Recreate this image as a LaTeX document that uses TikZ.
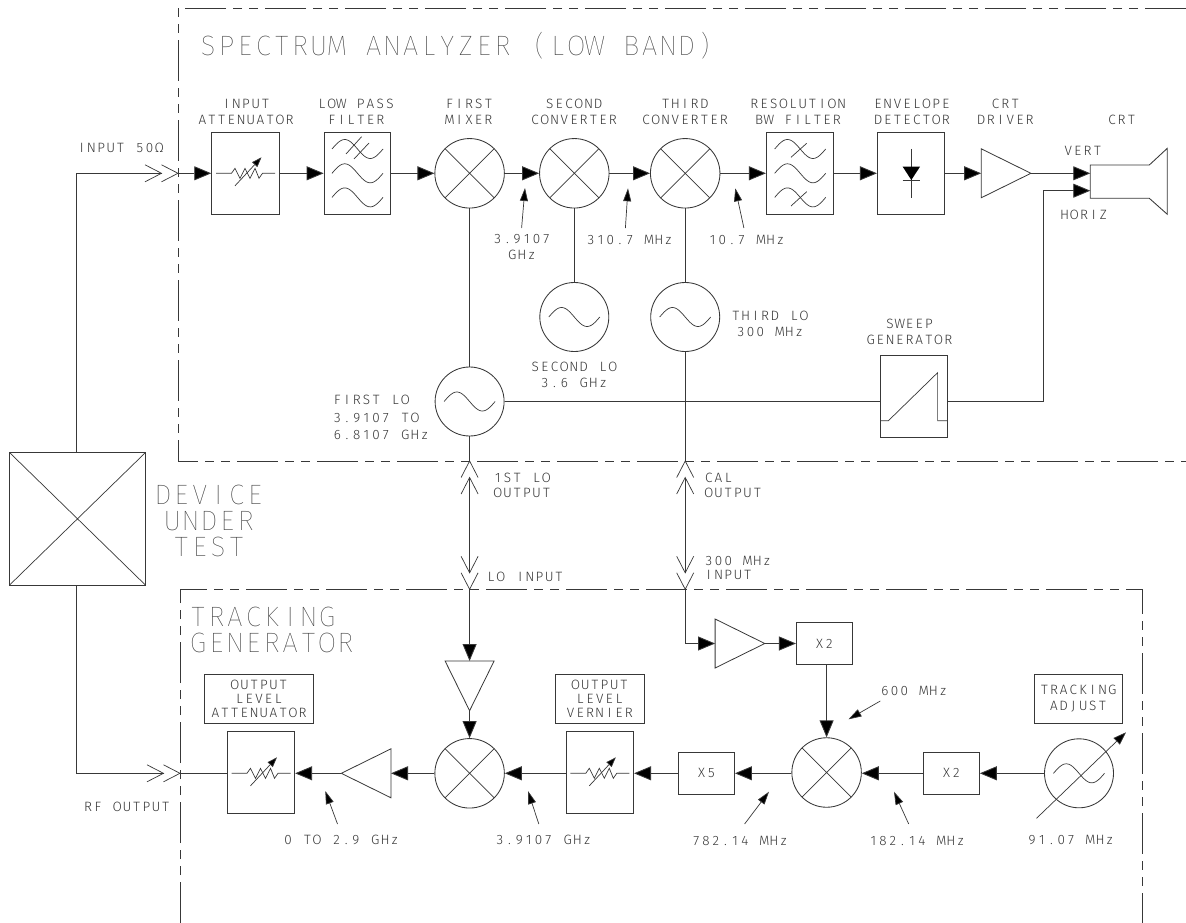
\documentclass[tikz,border=0pt]{standalone}
\usepackage{fontspec}
\usetikzlibrary{arrows.meta}
\newfontfamily\smallface[FakeStretch=1.0]{Fira Sans Light}
\newfontfamily\largeface[FakeStretch=0.97]{Fira Sans Thin}
\def\pitchw{9.7pt}
\def\pitchend{\pitchend}
\def\pitched#1{\leavevmode\pitchstep#1\pitchend}
\def\pitchstep#1{\ifx#1\pitchend\else\hbox to\pitchw{\hss#1\hss}\expandafter\pitchstep\fi}
\definecolor{ink}{gray}{0.22}
\tikzset{
  wire/.style={draw=ink,line width=0.85pt},
  flow/.style={wire,-{Triangle[length=17pt,width=14pt,fill=black]}},
  pointer/.style={draw=ink,line width=0.7pt,-{Triangle[length=13pt,width=8pt,fill=black]}},
  lbl/.style={inner sep=0pt,outer sep=0pt,text=ink,align=center,font=\smallface\fontsize{13.5}{#1}\selectfont},
  lbl/.default=16,
  biglbl/.style={inner sep=0pt,outer sep=0pt,text=ink,align=center,font=\largeface\fontsize{28}{#1}\selectfont\def\pitchw{18.4pt}},
  biglbl/.default=26,
  boxn/.style={wire,rectangle,inner sep=0pt,minimum width=#1,minimum height=82pt},
  mixer/.style={wire,circle,inner sep=0pt,minimum size=69.5pt,
    path picture={\draw[ink,line width=0.7pt]
      (path picture bounding box.north west)--(path picture bounding box.south east)
      (path picture bounding box.north east)--(path picture bounding box.south west);}},
  osc/.style={wire,circle,inner sep=0pt,minimum size=69pt},
  tag/.style={wire,rectangle,inner sep=0pt,text=ink,align=center,font=\smallface\fontsize{13.5}{#1}\selectfont},
  mult/.style={wire,rectangle,inner sep=0pt,minimum width=56pt,minimum height=42pt,text=ink,font=\smallface\fontsize{13.5}{16}\selectfont},
  fence/.style={draw=ink,line width=0.85pt,dash pattern=on 41pt off 7pt on 9pt off 7pt on 9pt off 7pt},
  pics/sinewave/.style={code={\draw[ink,line width=0.7pt,smooth,samples=37,domain=0:360]
      plot ({\x/360*51-25.5},{-9.5*sin(\x)});}},
  pics/amp/.style={code={\draw[ink,line width=0.8pt] (0,-24.5)--(0,24.5)--(49.7,0)--cycle;
      \coordinate (-in) at (0,0); \coordinate (-out) at (49.7,0);}},
  pics/chevrons/.style={code={\draw[ink,line width=0.7pt] (-16.5,-8.5)--(0,0)--(-16.5,8.5)
      (-33,-8.5)--(-16.5,0)--(-33,8.5);}},
  pics/varres/.style={code={\draw[ink,line width=0.7pt] (-29.5,0)--(-14,0)--(-10.5,-5)--(-5.5,5)--(-0.5,-5)--(4.5,5)--(9.5,-5)--(13.5,5)--(17,0)--(29.5,0);
      \draw[pointer,-{Triangle[length=10pt,width=7pt,fill=black]}] (-10.5,12.5)--(16,-16);}}
}
\begin{document}
\begin{tikzpicture}[x=1pt,y=-1pt]
\fill[white] (0,0) rectangle (1186,923);
\useasboundingbox (0,0) rectangle (1186,923);
% enclosures
\draw[fence] (1186,8.3)--(178,8.3)--(178,461)--(1186,461);
\draw[fence] (180,923)--(180,589.3)--(1142.2,589.3)--(1142.2,923);
\node[biglbl,anchor=base] (satitle) at (456.6,55.5) {\pitched{SPECTRUM~ANALYZER~(LOW~BAND)}};
\node[biglbl=26,align=left,anchor=west] (tgtitle) at (189,630) {\pitched{TRACKING}\\\pitched{GENERATOR}};
\node[biglbl=26] (duttext) at (209,520.5) {\pitched{DEVICE}\\\pitched{UNDER}\\\pitched{TEST}};
% device under test
\node[wire,rectangle,inner sep=0pt,minimum width=135.7pt,minimum height=132.3pt,
  path picture={\draw[ink,line width=0.7pt]
      (path picture bounding box.north west)--(path picture bounding box.south east)
      (path picture bounding box.north east)--(path picture bounding box.south west);}] (dut) at (77.5,518.8) {};
\coordinate (dutT) at (76.5,452.7);
\coordinate (dutB) at (76.5,585);
% spectrum analyzer chain
\node[boxn=67.6pt] (att) at (245.5,173.3) {};
\node[boxn=66.5pt] (lpf) at (357.3,173.3) {};
\node[mixer] (mix1) at (469.6,173.3) {};
\node[mixer] (mix2) at (574.3,173.3) {};
\node[mixer] (mix3) at (685.2,173.3) {};
\node[boxn=67.3pt] (res) at (800,173.3) {};
\node[boxn=66.9pt] (det) at (910.8,173.3) {};
\pic (drv) at (981.2,173.3) {amp};
\pic at (245.5,173.3) {varres};
\foreach \yy in {149,173.3,197.4} {\pic at (357.5,\yy) {sinewave}; \pic at (800.2,\yy) {sinewave};}
\draw[ink,line width=0.7pt] (346,154)--(361.6,136.7) (354,159)--(369,143)
  (791,157.3)--(806.7,143.3) (791,206)--(806.7,191.7);
\draw[ink,line width=0.7pt] (911.3,149)--(911.3,198.3) (902.7,180)--(920,180);
\fill[black] (902.7,166.7)--(920,166.7)--(911.3,180)--cycle;
\draw[ink,line width=0.85pt] (1090.3,165)--(1149.3,165)--(1167.3,148.3)--(1167.3,214.3)--(1149.3,198.3)--(1090.3,198.3)--cycle;
\coordinate (crtV) at (1090.3,173.3);
\coordinate (crtH) at (1090.3,190.7);
\coordinate (inA) at (178,173.3);
\coordinate (inB) at (162,173.3);
\pic at (178,173.3) {chevrons};
\draw[wire] (dutT) |- (inB);
\draw[flow] (inA)--(att);
\draw[flow] (att)--(lpf);
\draw[flow] (lpf)--(mix1);
\draw[flow] (mix1)--(mix2);
\draw[flow] (mix2)--(mix3);
\draw[flow] (mix3)--(res);
\draw[flow] (res)--(det);
\draw[flow] (det)--(drv-in);
\draw[flow] (drv-out)--(crtV);
% local oscillators
\node[osc] (lo2) at (574.3,317) {};
\node[osc] (lo3) at (685.2,317) {};
\node[osc] (lo1) at (469.6,401.5) {};
\pic at (574.3,317) {sinewave};
\pic at (685.2,317) {sinewave};
\pic at (469.6,401.5) {sinewave};
\draw[wire] (mix2)--(lo2);
\draw[wire] (mix3)--(lo3);
\draw[wire] (mix1)--(lo1);
\node[wire,rectangle,inner sep=0pt,minimum width=67.3pt,minimum height=81.6pt] (sweep) at (913.6,396.5) {};
\draw[ink,line width=0.7pt] (880,420.7)--(888.4,420.7)--(937.6,372.7)--(937.6,420.7)--(947.3,420.7);
\draw[wire] (lo1)--(sweep.west |- lo1);
\coordinate (hturn) at (1043.6,401.5);
\draw[wire] (sweep.east |- lo1)--(hturn);
\draw[flow] (hturn) |- (crtH);
% interconnects
\coordinate (lo1out) at (469.6,461);
\coordinate (lo1up) at (469.6,477.5);
\coordinate (lo1dn) at (469.6,573);
\coordinate (loin) at (469.6,589.3);
\coordinate (calout) at (685.2,461);
\coordinate (calup) at (685.2,477.5);
\coordinate (caldn) at (685.2,573);
\coordinate (calin) at (685.2,589.3);
\draw[wire] (lo1)--(lo1out);
\draw[wire] (lo3)--(calout);
\draw[wire] (lo1up)--(lo1dn);
\draw[wire] (calup)--(caldn);
\pic[rotate=90] at (lo1out) {chevrons};
\pic[rotate=90] at (calout) {chevrons};
\pic[rotate=-90] at (loin) {chevrons};
\pic[rotate=-90] at (calin) {chevrons};
% tracking generator
\pic[rotate=-90] (ampLo) at (469.6,661) {amp};
\node[mixer] (mix4) at (469.6,773.3) {};
\pic[rotate=180] (ampOut) at (391,773.3) {amp};
\node[boxn=67.4pt] (oatt) at (261,772.3) {};
\node[boxn=67.6pt] (vern) at (599.8,772.3) {};
\pic at (261,773.3) {varres};
\pic at (599.8,773.3) {varres};
\node[mult] (x5) at (706.5,773.3) {\pitched{X5}};
\node[mixer] (mix5) at (826.6,772.5) {};
\node[mult] (x2r) at (951.4,773.3) {\pitched{X2}};
\node[osc] (trk) at (1079,773.3) {};
\pic at (1079,773.3) {sinewave};
\pic (amp3) at (715.1,643.5) {amp};
\node[mult] (x2t) at (824.4,643.5) {\pitched{X2}};
\coordinate (rfA) at (180,773.3);
\coordinate (rfB) at (163.5,773.3);
\coordinate (callow) at (685.2,643.5);
\pic at (rfA) {chevrons};
\draw[wire] (dutB) |- (rfB);
\draw[wire] (oatt.west |- rfA)--(rfA);
\draw[flow] (loin)--(ampLo-in);
\draw[flow] (ampLo-out)--(mix4);
\draw[flow] (mix4)--(ampOut-in);
\draw[flow] (ampOut-out)--(oatt.east |- rfA);
\draw[flow] (vern.west |- mix4)--(mix4);
\draw[flow] (x5)--(vern.east |- x5);
\draw[flow] (mix5.west |- x5)--(x5);
\draw[flow] (x2r)--(mix5.east |- x2r);
\draw[flow] (trk)--(x2r);
\draw[wire] (calin)--(callow);
\draw[flow] (callow)--(amp3-in);
\draw[flow] (amp3-out)--(x2t);
\draw[flow] (x2t.south -| mix5)--(mix5);
\coordinate (trkA) at (1036.5,818.3);
\coordinate (trkB) at (1126,732.3);
\draw[pointer,-{Triangle[length=13pt,width=9pt,fill=black]}] (trkA)--(trkB);
% frequency pointers
\foreach \ta/\tb/\pa/\pb [count=\i] in {521.6/228/525/188, 625.4/228/628/188.3, 743.9/228/735.3/188.3,
  337.5/824/325.3/791, 538.8/824/528/791, 744.6/824/769/791.7, 908.7/824/894/791.7, 880.3/701/848.5/719.3} {
  \coordinate (pt\i) at (\ta,\tb);
  \coordinate (ph\i) at (\pa,\pb);
  \draw[pointer] (pt\i)--(ph\i);
}
% labels
\node[lbl] (l1) at (246,112) {\pitched{INPUT}\\\pitched{ATTENUATOR}};
\node[lbl] (l2) at (356,112) {\pitched{LOW~PASS}\\\pitched{FILTER}};
\node[lbl] (l3) at (469,112) {\pitched{FIRST}\\\pitched{MIXER}};
\node[lbl] (l4) at (574,112) {\pitched{SECOND}\\\pitched{CONVERTER}};
\node[lbl] (l5) at (685,112) {\pitched{THIRD}\\\pitched{CONVERTER}};
\node[lbl] (l6) at (798,112) {\pitched{RESOLUTION}\\\pitched{BW~FILTER}};
\node[lbl] (l7) at (912,112) {\pitched{ENVELOPE}\\\pitched{DETECTOR}};
\node[lbl] (l8) at (1005.4,112) {\pitched{CRT}\\\pitched{DRIVER}};
\node[lbl] (l9) at (1121.7,120) {\pitched{CRT}};
\node[lbl] (l10) at (1082.8,150.7) {\pitched{VERT}};
\node[lbl] (l11) at (1084,215) {\pitched{HORIZ}};
\node[lbl] (l12) at (120.5,148) {\pitched{INPUT~50Ω}};
\node[lbl] (l13) at (522,247.4) {\pitched{3.9107}\\\pitched{GHz}};
\node[lbl] (l14) at (629.7,240) {\pitched{310.7~MHz}};
\node[lbl] (l15) at (746.5,240) {\pitched{10.7~MHz}};
\node[lbl] (l16) at (574,375.3) {\pitched{SECOND~LO}\\\pitched{3.6~GHz}};
\node[lbl] (l17) at (770,324) {\pitched{THIRD~LO}\\\pitched{300~MHz}};
\node[lbl] (l18) at (909.5,331.7) {\pitched{SWEEP}\\\pitched{GENERATOR}};
\node[lbl=17.5,align=right,anchor=east] (l19) at (429.5,417.5) {\pitched{FIRST~LO~~}\\\pitched{3.9107~TO~}\\\pitched{6.8107~GHz}};
\node[lbl=15,align=left,anchor=west] (l20) at (493,485.5) {\pitched{1ST~LO}\\\pitched{OUTPUT}};
\node[lbl=14.5,align=left,anchor=west] (l21) at (704,485.5) {\pitched{CAL}\\\pitched{OUTPUT}};
\node[lbl] (l22) at (525,576.7) {\pitched{LO~INPUT}};
\node[lbl=14.5,align=left,anchor=west] (l23) at (704,568) {\pitched{300~MHz}\\\pitched{INPUT}};
\node[lbl] (l24) at (127,806.7) {\pitched{RF~OUTPUT}};
\node[lbl] (l25) at (341.4,840) {\pitched{0~TO~2.9~GHz}};
\node[lbl] (l26) at (543.5,840) {\pitched{3.9107~GHz}};
\node[lbl] (l27) at (740,840.7) {\pitched{782.14~MHz}};
\node[lbl] (l28) at (917,840.7) {\pitched{182.14~MHz}};
\node[lbl] (l29) at (1071,840) {\pitched{91.07~MHz}};
\node[lbl] (l30) at (914,691) {\pitched{600~MHz}};
\node[tag=14,minimum width=109.8pt,minimum height=49pt] (t1) at (259,698.8) {\pitched{OUTPUT}\\\pitched{LEVEL}\\\pitched{ATTENUATOR}};
\node[tag=14,minimum width=88.8pt,minimum height=49pt] (t2) at (599.7,698.8) {\pitched{OUTPUT}\\\pitched{LEVEL}\\\pitched{VERNIER}};
\node[tag=15.7,minimum width=88.2pt,minimum height=49pt] (t3) at (1078.3,698.8) {\pitched{TRACKING}\\\pitched{ADJUST}};
\end{tikzpicture}
\end{document}
